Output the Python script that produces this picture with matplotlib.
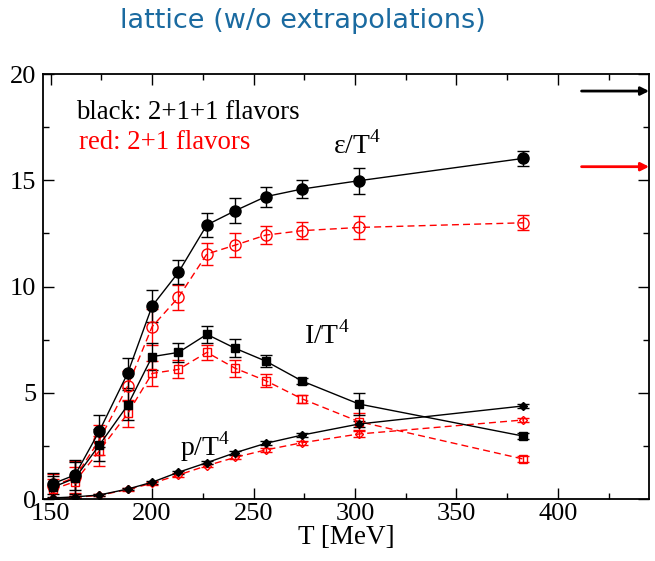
import numpy as np
import matplotlib
matplotlib.use("Agg")
import matplotlib.pyplot as plt
from matplotlib.ticker import MultipleLocator

plt.rcParams['font.family'] = ['Liberation Serif', 'DejaVu Serif']
plt.rcParams['mathtext.fontset'] = 'custom'
plt.rcParams['mathtext.rm'] = 'Liberation Serif'

# temperatures [MeV]
T = [151, 162, 174, 188, 200, 213, 227, 241, 256, 274, 302, 383]

# 2+1+1 flavors (black)
eps_211 = [0.72, 1.13, 3.20, 5.93, 9.08, 10.67, 12.90, 13.57, 14.23, 14.59, 14.98, 16.03]
eps_211_err = [0.50, 0.72, 0.75, 0.70, 0.75, 0.56, 0.58, 0.58, 0.47, 0.42, 0.61, 0.36]
I_211 = [0.55, 0.98, 2.54, 4.42, 6.70, 6.90, 7.75, 7.09, 6.49, 5.55, 4.47, 2.96]
I_211_err = [0.55, 0.75, 0.75, 0.70, 0.63, 0.44, 0.39, 0.42, 0.30, 0.15, 0.50, 0.15]
p_211 = [0.05, 0.10, 0.19, 0.47, 0.79, 1.26, 1.71, 2.18, 2.62, 3.01, 3.53, 4.38]
p_211_err = [0.03, 0.04, 0.05, 0.06, 0.07, 0.08, 0.08, 0.09, 0.09, 0.10, 0.12, 0.10]

# 2+1 flavors (red)
eps_21 = [0.61, 1.02, 2.78, 5.32, 8.11, 9.49, 11.53, 11.95, 12.42, 12.63, 12.78, 13.00]
eps_21_err = [0.55, 0.75, 0.70, 0.70, 0.85, 0.58, 0.53, 0.55, 0.44, 0.39, 0.53, 0.35]
I_21 = [0.45, 0.82, 2.27, 4.03, 5.91, 6.10, 6.90, 6.15, 5.57, 4.71, 3.64, 1.88]
I_21_err = [0.50, 0.70, 0.70, 0.65, 0.60, 0.42, 0.35, 0.40, 0.30, 0.20, 0.40, 0.15]
p_21 = [0.03, 0.08, 0.17, 0.45, 0.74, 1.13, 1.57, 1.96, 2.31, 2.65, 3.06, 3.72]
p_21_err = [0.03, 0.04, 0.05, 0.06, 0.07, 0.08, 0.08, 0.09, 0.09, 0.10, 0.12, 0.10]

# Stefan-Boltzmann limits (arrows on the right)
sb_211 = 19.2
sb_21 = 15.64

fig = plt.figure(figsize=(6.55, 5.61), dpi=100)
ax = fig.add_axes([0.0656, 0.1105, 0.9254, 0.7575])

def curve(y, err, color, marker, ms, filled, ls):
    ax.errorbar(T, y, yerr=err, color=color, marker=marker, ms=ms,
                mfc=color if filled else 'none', mec=color, mew=1.0,
                ls=ls, lw=1.0, elinewidth=1.0, capsize=4, capthick=1.0,
                dashes=(5, 3) if ls == '--' else (None, None))

curve(eps_21, eps_21_err, 'red', 'o', 8, False, '--')
curve(I_21, I_21_err, 'red', 's', 6, False, '--')
curve(p_21, p_21_err, 'red', 'D', 4.5, False, '--')
curve(eps_211, eps_211_err, 'black', 'o', 8, True, '-')
curve(I_211, I_211_err, 'black', 's', 6, True, '-')
curve(p_211, p_211_err, 'black', 'D', 4.5, True, '-')

ax.set_xlim(146.2, 445)
ax.set_ylim(0, 20)
ax.xaxis.set_major_locator(MultipleLocator(50))
ax.xaxis.set_minor_locator(MultipleLocator(25))
ax.yaxis.set_major_locator(MultipleLocator(5))
ax.yaxis.set_minor_locator(MultipleLocator(2.5))
ax.tick_params(which='both', direction='in', top=True, right=True,
               labelsize=19, width=1.0)
ax.tick_params(axis='x', pad=3)
ax.tick_params(axis='y', pad=5)
ax.tick_params(which='major', length=8)
ax.tick_params(which='minor', length=4.5)
for s in ax.spines.values():
    s.set_linewidth(1.3)
ax.set_xlabel('T [MeV]', fontsize=19.5, labelpad=0)

ax.text(162.3, 18.2, 'black: 2+1+1 flavors', fontsize=19.3, color='black', va='center')
ax.text(163.8, 16.8, 'red: 2+1 flavors', fontsize=19.3, color='red', va='center')
ax.text(289, 16.66, r'ε/T$^{\mathrm{4}}$', fontsize=20, va='center')
ax.text(275, 7.7, r'I/T$^{\mathrm{4}}$', fontsize=20, va='center')
ax.text(213.6, 2.45, r'p/T$^{\mathrm{4}}$', fontsize=20, va='center')

for yv, col in [(sb_211, 'black'), (sb_21, 'red')]:
    ax.annotate('', xy=(445, yv), xytext=(411.7, yv), annotation_clip=False,
                arrowprops=dict(arrowstyle='-|>', color=col, lw=2,
                                mutation_scale=12, shrinkA=0, shrinkB=0))

fig.text(0.462, 0.962, 'lattice (w/o extrapolations)', fontsize=19.5,
         color='#1a6aa0', ha='center', va='center', family='DejaVu Sans')

fig.savefig('out.png', dpi=100)
